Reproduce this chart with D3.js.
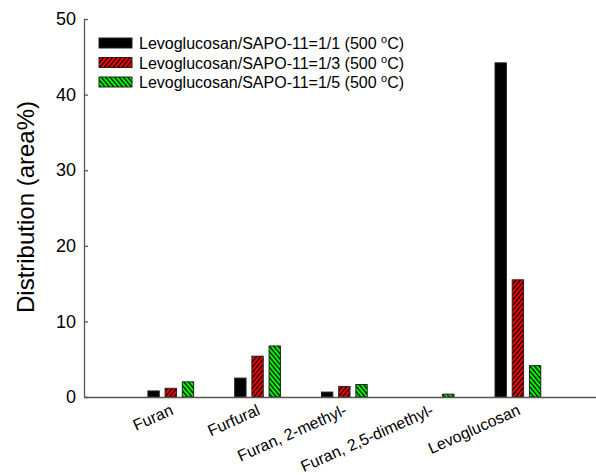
<!DOCTYPE html>
<html>
<head>
<meta charset="utf-8">
<script src="https://cdn.jsdelivr.net/npm/d3@7"></script>
<style>
  html, body { margin: 0; padding: 0; background: #fff; }
  text { font-family: Arial, "Liberation Sans", sans-serif; fill: #000; }
</style>
</head>
<body>
<script>
// ---- data ----
const categories = ["Furan", "Furfural", "Furan, 2-methyl-", "Furan, 2,5-dimethyl-", "Levoglucosan"];
const seriesNames = ["Levoglucosan/SAPO-11=1/1 (500 ", "Levoglucosan/SAPO-11=1/3 (500 ", "Levoglucosan/SAPO-11=1/5 (500 "];
const ratio11 = [0.8, 2.5, 0.65, 0, 44.2];
const ratio13 = [1.15, 5.4, 1.4, 0, 15.5];
const ratio15 = [2.0, 6.75, 1.65, 0.38, 4.15];
const yTicks = [0, 10, 20, 30, 40, 50];
const yLabel = "Distribution (area%)";

const seriesValues = [ratio11, ratio13, ratio15];

const W = 596, H = 475;
const svg = d3.select("body").append("svg").attr("width", W).attr("height", H);

const defs = svg.append("defs");
function hatch(id, fill, dir) {
  const s = 3.4;
  const p = defs.append("pattern").attr("id", id).attr("patternUnits", "userSpaceOnUse")
    .attr("width", s).attr("height", s)
    .attr("patternTransform", `rotate(${dir})`);
  p.append("rect").attr("width", s).attr("height", s).attr("fill", fill);
  p.append("line").attr("x1", 0.7).attr("y1", 0).attr("x2", 0.7).attr("y2", s)
    .attr("stroke", "#000").attr("stroke-width", 1.3);
}
hatch("hatchRed", "#ff0000", 40);
hatch("hatchGreen", "#00ff00", -40);
const fills = ["#000000", "url(#hatchRed)", "url(#hatchGreen)"];

const x = d3.scaleLinear().domain([0, 5.9]).range([84, 596]);
const y = d3.scaleLinear().domain([0, 50]).range([397, 19]);
const sub = d3.scaleBand().domain(d3.range(seriesValues.length)).range([-25.8, 25.8])
  .paddingInner(0.34).paddingOuter(0.17);

// bars
categories.forEach((c, ci) => {
  seriesValues.forEach((vals, si) => {
    const v = vals[ci];
    if (v <= 0) return;
    svg.append("rect")
      .attr("x", x(ci + 1) + sub(si))
      .attr("y", y(v))
      .attr("width", sub.bandwidth())
      .attr("height", y(0) - y(v))
      .attr("fill", fills[si])
      .attr("stroke", "#222")
      .attr("stroke-width", 1);
  });
});

// y axis
const yAxis = d3.axisLeft(y).tickValues(yTicks).tickSizeInner(-4).tickSizeOuter(0).tickPadding(8);
const gy = svg.append("g").attr("transform", `translate(${x(0)},0)`).call(yAxis);
gy.select(".domain").attr("stroke", "#555").attr("stroke-width", 1.3);
gy.selectAll(".tick line").attr("stroke", "#555").attr("stroke-width", 1.3);
gy.selectAll(".tick text").attr("font-size", 18).attr("font-family", "Arial, 'Liberation Sans', sans-serif").attr("fill", "#000");

// x axis
const xAxis = d3.axisBottom(x).tickValues(d3.range(1, categories.length + 1))
  .tickFormat(d => categories[d - 1]).tickSize(0).tickPadding(0);
const gx = svg.append("g").attr("transform", `translate(0,${y(0)})`).call(xAxis);
gx.select(".domain").attr("stroke", "#555").attr("stroke-width", 1.3);
gx.selectAll(".tick text")
  .attr("font-size", 16)
  .attr("font-family", "Arial, 'Liberation Sans', sans-serif")
  .attr("fill", "#000")
  .attr("text-anchor", "end")
  .attr("dy", null)
  .attr("y", null)
  .attr("transform", "translate(3,17) rotate(-24)");

// y label
svg.append("text")
  .attr("transform", `translate(34,207) rotate(-90)`)
  .attr("text-anchor", "middle")
  .attr("font-size", 24)
  .text(yLabel);

// legend
const lg = svg.append("g");
seriesNames.forEach((name, i) => {
  const yy = 43 + i * 19.5;
  lg.append("rect").attr("x", 99).attr("y", yy - 5).attr("width", 33).attr("height", 10)
    .attr("fill", fills[i]).attr("stroke", "#222").attr("stroke-width", 1);
  const t = lg.append("text").attr("x", 139).attr("y", yy + 6).attr("font-size", 16);
  t.append("tspan").text(name);
  t.append("tspan").attr("font-size", 11).attr("dy", -6).text("o");
  t.append("tspan").attr("dy", 6).text("C)");
});
</script>
</body>
</html>
